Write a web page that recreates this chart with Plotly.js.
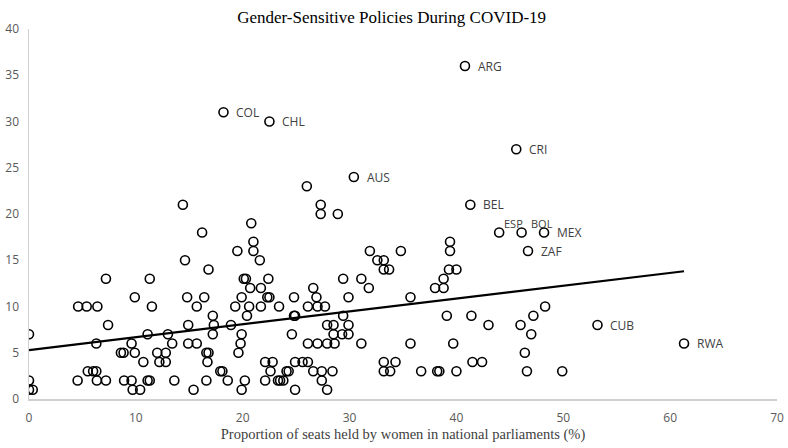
<!DOCTYPE html>
<html>
<head>
<meta charset="utf-8">
<script src="https://cdn.plot.ly/plotly-3.0.1.min.js"></script>
<style>html,body{margin:0;padding:0;background:#fff}#chart{width:788px;height:448px}</style>
</head>
<body>
<div id="chart"></div>
<script>
// Unlabeled countries: % seats held by women (x) and number of gender-sensitive policies (y)
const womenShare = [
  26.0,
  14.4, 27.3,
  27.3, 28.9,
  20.8,
  16.2,
  21.0, 39.4,
  19.5, 21.0, 31.9, 34.8, 39.4,
  14.6, 21.6, 32.6, 33.2,
  16.8, 33.2, 33.7, 39.3, 40.0,
  7.2, 11.3, 20.1, 20.3, 22.4, 29.4, 31.1, 38.8,
  20.7, 21.7, 26.6, 31.8, 38.0, 38.8,
  9.9, 14.8, 16.4, 19.9, 22.3, 22.5, 24.8, 26.9, 29.9, 35.7,
  4.6, 5.4, 6.4, 11.5, 15.7, 19.3, 20.6, 21.7, 23.4, 26.1, 27.0, 27.7, 48.3,
  17.2, 20.4, 24.8, 24.9, 29.4, 39.1, 41.4, 47.2,
  7.4, 14.9, 17.3, 18.9, 27.9, 28.5, 29.9, 43.0, 46.0,
  0, 11.1, 13.0, 17.2, 19.9, 24.6, 28.5, 29.3, 29.9, 47.0,
  6.3, 9.6, 13.4, 14.9, 15.7, 19.8, 26.1, 27.0, 27.9, 28.6, 31.1, 35.7, 39.7,
  8.6, 8.85, 9.9, 12.0, 12.8, 16.6, 16.8, 19.6, 46.4,
  10.7, 12.2, 12.8, 16.7, 22.1, 22.8, 24.9, 25.6, 26.1, 33.2, 34.3, 41.5, 42.4,
  5.5, 6.0, 6.3, 17.9, 18.1, 22.6, 24.1, 24.3, 26.6, 27.4, 28.4, 33.2, 33.8, 36.7, 38.2, 38.4, 40.0, 46.6, 49.9,
  0, 4.55, 6.35, 7.2, 8.9, 9.6, 11.1, 11.3, 13.6, 16.6, 18.6, 20.2, 22.1, 23.3, 23.5, 23.8, 27.4,
  0, 0.35, 9.7, 10.4, 15.4, 19.9, 24.9, 27.9
];
const policyCount = [
  23,
  21, 21,
  20, 20,
  19,
  18,
  17, 17,
  16, 16, 16, 16, 16,
  15, 15, 15, 15,
  14, 14, 14, 14, 14,
  13, 13, 13, 13, 13, 13, 13, 13,
  12, 12, 12, 12, 12, 12,
  11, 11, 11, 11, 11, 11, 11, 11, 11, 11,
  10, 10, 10, 10, 10, 10, 10, 10, 10, 10, 10, 10, 10,
  9, 9, 9, 9, 9, 9, 9, 9,
  8, 8, 8, 8, 8, 8, 8, 8, 8,
  7, 7, 7, 7, 7, 7, 7, 7, 7, 7,
  6, 6, 6, 6, 6, 6, 6, 6, 6, 6, 6, 6, 6,
  5, 5, 5, 5, 5, 5, 5, 5, 5,
  4, 4, 4, 4, 4, 4, 4, 4, 4, 4, 4, 4, 4,
  3, 3, 3, 3, 3, 3, 3, 3, 3, 3, 3, 3, 3, 3, 3, 3, 3, 3, 3,
  2, 2, 2, 2, 2, 2, 2, 2, 2, 2, 2, 2, 2, 2, 2, 2, 2,
  1, 1, 1, 1, 1, 1, 1, 1
];

// Labeled countries
const countryCodes  = ["ARG", "COL", "CHL", "CRI", "AUS", "BEL", "ESP", "BOL", "MEX", "ZAF", "CUB", "RWA"];
const countryShare  = [40.8, 18.2, 22.5, 45.6, 30.4, 41.3, 44.0, 46.1, 48.2, 46.7, 53.2, 61.3];
const countryPolicy = [36, 31, 30, 27, 24, 21, 18, 18, 18, 16, 8, 6];

const xTicks = [0, 10, 20, 30, 40, 50, 60, 70];
const yTicks = [0, 5, 10, 15, 20, 25, 30, 35, 40];

// Linear trend line (least squares over all countries)
const allX = womenShare.concat(countryShare);
const allY = policyCount.concat(countryPolicy);
const n = allX.length;
const mx = allX.reduce((a, b) => a + b, 0) / n;
const my = allY.reduce((a, b) => a + b, 0) / n;
let sxy = 0, sxx = 0;
for (let i = 0; i < n; i++) { sxy += (allX[i] - mx) * (allY[i] - my); sxx += (allX[i] - mx) ** 2; }
const slope = sxy / sxx;
const intercept = my - slope * mx;
const xMin = Math.min(...allX), xMax = Math.max(...allX);

const markerStyle = {symbol: 'circle-open', size: 9, color: '#000000', line: {width: 1.6, color: '#000000'}};

const traces = [
  {type: 'scatter', mode: 'markers', x: womenShare, y: policyCount, marker: markerStyle, hoverinfo: 'x+y', showlegend: false},
  {type: 'scatter', mode: 'markers', x: countryShare, y: countryPolicy, text: countryCodes, marker: markerStyle, showlegend: false},
  {type: 'scatter', mode: 'lines', x: [xMin, xMax], y: [intercept + slope * xMin, intercept + slope * xMax],
   line: {color: '#000000', width: 2.2}, hoverinfo: 'skip', showlegend: false}
];

const annotations = countryCodes.map((c, i) => {
  const raised = (c === 'ESP' || c === 'BOL');
  return {
    x: countryShare[i], y: countryPolicy[i], xref: 'x', yref: 'y', text: c, showarrow: false,
    xanchor: 'left', yanchor: 'middle',
    xshift: raised ? (c === 'ESP' ? 3 : 7) : 11, yshift: raised ? 9 : 0,
    font: {family: 'Open Sans, sans-serif', size: raised ? 11 : 12, color: '#404040'}
  };
});

const axisFont = {family: 'Open Sans, sans-serif', size: 12, color: '#595959'};

const layout = {
  width: 788, height: 448,
  margin: {l: 29, r: 11, t: 29, b: 49},
  paper_bgcolor: '#ffffff', plot_bgcolor: '#ffffff',
  title: {text: 'Gender-Sensitive Policies During COVID-19', x: 0.497, xanchor: 'center', y: 0.975, yanchor: 'top',
          font: {family: 'Liberation Serif, Times New Roman, serif', size: 17, color: '#000000'}},
  xaxis: {range: [0, 70], tickvals: xTicks, ticktext: xTicks.map(String), showgrid: false, zeroline: false,
          showline: true, linecolor: '#d0d0d0', linewidth: 1.5, ticks: '', tickfont: axisFont, ticklabelstandoff: 7,
          title: {text: 'Proportion of seats held by women in national parliaments (%)', standoff: 2,
                  font: {family: 'Liberation Serif, Times New Roman, serif', size: 14.5, color: '#404040'}}},
  yaxis: {range: [0, 40], tickvals: yTicks, ticktext: yTicks.map(String), showgrid: false, zeroline: false,
          showline: true, linecolor: '#d0d0d0', linewidth: 1.5, ticks: '', tickfont: axisFont, ticklabelstandoff: 6},
  annotations: annotations,
  showlegend: false
};

Plotly.newPlot('chart', traces, layout, {staticPlot: true, displayModeBar: false});
</script>
</body>
</html>
